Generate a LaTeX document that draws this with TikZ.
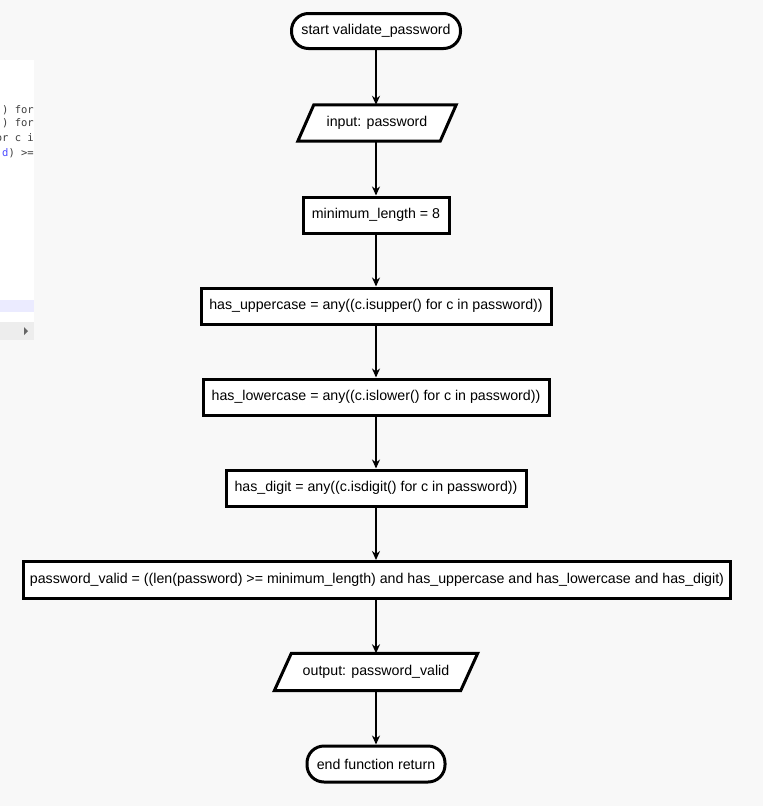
\documentclass[tikz,border=0pt]{standalone}
\usepackage{fontspec}
\setmainfont{Liberation Sans}
\setmonofont{DejaVu Sans Mono}
\usetikzlibrary{arrows.meta}
\definecolor{bg}{HTML}{F8F8F8}
\begin{document}
\begin{tikzpicture}[x=1pt,y=-1pt,
  box/.style={draw,line width=3pt,fill=white,inner sep=0pt,font=\fontsize{14.2}{16}\selectfont},
  para/.style={inner sep=0pt,font=\fontsize{14.2}{16}\selectfont},
  arr/.style={line width=2.4pt,-{Stealth[length=9pt,width=8pt]}},
  code/.style={anchor=east,inner sep=0pt,font=\ttfamily\fontsize{10.5}{11}\selectfont,text=black!75}]
\useasboundingbox (0,0) rectangle (763,806);
\fill[bg] (0,0) rectangle (763,806);
% side panel
\fill[white] (0,60) rectangle (34,340);
\begin{scope}
\clip (0,60) rectangle (34,340);
\node[code] (c1) at (34,110) {) for};
\node[code] (c2) at (34,123) {) for};
\node[code] (c3) at (34,138) {or c i};
\node[code] (c4) at (34,153) {\textcolor{blue!70}{d}) >=};
\end{scope}
\fill[blue!8] (0,300) rectangle (34,312);
\fill[black!7] (0,322) rectangle (34,340);
\fill[black!60] (24,327) -- (28,331) -- (24,335) -- cycle;
% nodes
\node[box,rounded corners=17pt,minimum width=169,minimum height=35] (start) at (376,31) {start validate\_password};
\node[para,minimum width=158,minimum height=36] (input) at (377,123) {input: password};
\draw[line width=3pt,fill=white] ([xshift=16]input.north west) -- (input.north east) -- ([xshift=-16]input.south east) -- (input.south west) -- cycle;
\node[para] at (input) {input: password};
\node[box,minimum width=146,minimum height=36] (minl) at (376,215) {minimum\_length = 8};
\node[box,minimum width=350,minimum height=36] (up) at (376,306) {has\_uppercase = any((c.isupper() for c in password))};
\node[box,minimum width=346,minimum height=36] (low) at (376,397) {has\_lowercase = any((c.islower() for c in password))};
\node[box,minimum width=300,minimum height=36] (dig) at (376,488) {has\_digit = any((c.isdigit() for c in password))};
\node[box,minimum width=707,minimum height=37] (val) at (377,580) {password\_valid = ((len(password) >= minimum\_length) and has\_uppercase and has\_lowercase and has\_digit)};
\node[para,minimum width=203,minimum height=37] (out) at (376,672) {output: password\_valid};
\draw[line width=3pt,fill=white] ([xshift=17]out.north west) -- (out.north east) -- ([xshift=-17]out.south east) -- (out.south west) -- cycle;
\node[para] at (out) {output: password\_valid};
\node[box,rounded corners=17pt,minimum width=138,minimum height=36] (end) at (376,764) {end function return};
% arrows
\draw[arr] (start.south) -- (start.south |- input.north);
\draw[arr] (start.south |- input.south) -- (minl.north);
\draw[arr] (minl.south) -- (up.north);
\draw[arr] (up.south) -- (low.north);
\draw[arr] (low.south) -- (dig.north);
\draw[arr] (dig.south) -- (dig.south |- val.north);
\draw[arr] (dig.south |- val.south) -- (dig.south |- out.north);
\draw[arr] (dig.south |- out.south) -- (end.north);
\end{tikzpicture}
\end{document}
